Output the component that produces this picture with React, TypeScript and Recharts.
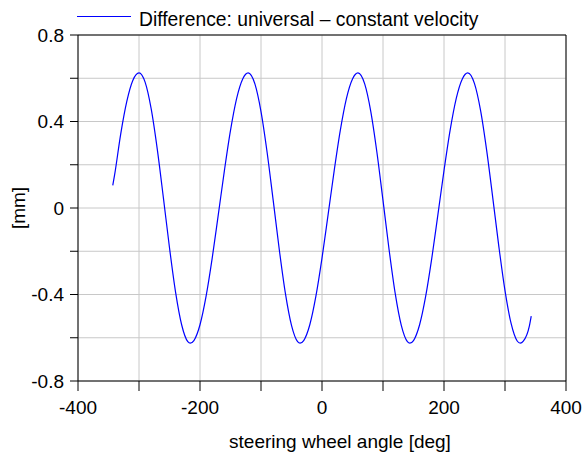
import React from 'react';
import { LineChart, Line, XAxis, YAxis, CartesianGrid, ReferenceLine, Legend, Label } from 'recharts';

const FONT = '"Liberation Sans", Arial, sans-serif';

const seriesName = 'Difference: universal \u2013 constant velocity';
const xLabel = 'steering wheel angle [deg]';
const yLabel = '[mm]';

const xTicks = [-400, -300, -200, -100, 0, 100, 200, 300, 400];
const xTickLabels = ['-400', '', '-200', '', '0', '', '200', '', '400'];
const yTicks = [-0.8, -0.6, -0.4, -0.2, 0, 0.2, 0.4, 0.6, 0.8];
const yTickLabels = ['-0.8', '', '-0.4', '', '0', '', '0.4', '', '0.8'];

const angles = [
  -343, -340, -330, -320, -310, -300, -290, -280, -270, -260, -250, -240, -230, -220, -216,
  -210, -200, -190, -180, -170, -160, -150, -140, -130, -121, -110, -100, -90, -80, -70,
  -60, -50, -40, -36, -30, -20, -10, 0, 10, 20, 30, 40, 50, 59, 70, 80, 90, 100, 110, 120,
  130, 140, 144, 150, 160, 170, 180, 190, 200, 210, 220, 230, 239, 250, 260, 270, 280, 290,
  300, 310, 320, 325, 330, 340, 343,
];

const difference = [
  0.105, 0.153, 0.342, 0.493, 0.591, 0.625, 0.582, 0.458, 0.271, 0.047, -0.184, -0.39, -0.541, -0.618, -0.625,
  -0.613, -0.54, -0.408, -0.232, -0.031, 0.173, 0.359, 0.506, 0.597, 0.625, 0.574, 0.446, 0.258, 0.035, -0.193,
  -0.395, -0.543, -0.618, -0.625, -0.613, -0.54, -0.408, -0.232, -0.031, 0.173, 0.359, 0.506, 0.597, 0.625, 0.574, 0.446, 0.258, 0.035, -0.193, -0.395,
  -0.543, -0.618, -0.625, -0.613, -0.54, -0.408, -0.232, -0.031, 0.173, 0.359, 0.506, 0.597, 0.625, 0.575, 0.45, 0.265, 0.046, -0.18,
  -0.382, -0.534, -0.615, -0.625, -0.616, -0.545, -0.5,
];

const data = angles.map((a, i) => ({ angle: a, diff: difference[i] }));

const fmtX = (v: number) => {
  const i = xTicks.findIndex((t) => Math.abs(t - v) < 1e-6);
  return i >= 0 ? xTickLabels[i] : '';
};
const fmtY = (v: number) => {
  const i = yTicks.findIndex((t) => Math.abs(t - v) < 1e-6);
  return i >= 0 ? yTickLabels[i] : '';
};

const LegendContent = () => (
  <div style={{ position: 'relative', width: 560, height: 35 }}>
    <svg width={60} height={30} style={{ position: 'absolute', left: 77, top: 0 }}>
      <line x1={0} x2={54} y1={16.5} y2={16.5} stroke="#0000ff" strokeWidth={1} />
    </svg>
    <span
      style={{
        position: 'absolute',
        left: 139,
        top: 10,
        fontSize: 19.3,
        lineHeight: '19px',
        fontFamily: FONT,
        color: '#000',
        whiteSpace: 'nowrap',
      }}
    >
      {seriesName}
    </span>
  </div>
);

export default function App() {
  const tickStyle = { fill: '#000', fontSize: 19, fontFamily: FONT };
  return (
    <>
      <style>{'html,body{margin:0;padding:0;overflow:hidden;}'}</style>
      <LineChart
        width={584}
        height={455}
        data={data}
        margin={{ top: 35, right: 18, bottom: 0, left: 8 }}
      >
        <CartesianGrid stroke="#c8c8c8" strokeWidth={1} />
        <XAxis
          dataKey="angle"
          type="number"
          domain={[-400, 400]}
          ticks={xTicks}
          tickFormatter={fmtX}
          height={74}
          tickSize={10}
          tickMargin={10}
          tick={tickStyle}
          axisLine={{ stroke: '#000' }}
          tickLine={{ stroke: '#000' }}
          interval={0}
        >
          <Label
            value={xLabel}
            position="insideBottom"
            offset={7}
            dx={18}
            style={{ fill: '#000', fontSize: 19, fontFamily: FONT }}
          />
        </XAxis>
        <YAxis
          type="number"
          domain={[-0.8, 0.8]}
          ticks={yTicks}
          tickFormatter={fmtY}
          width={70}
          tickSize={8}
          tickMargin={6}
          tick={tickStyle}
          axisLine={{ stroke: '#000' }}
          tickLine={{ stroke: '#000' }}
          interval={0}
        >
          <Label
            value={yLabel}
            angle={-90}
            position="insideLeft"
            offset={10}
            style={{ fill: '#000', fontSize: 19, fontFamily: FONT, textAnchor: 'middle' }}
          />
        </YAxis>
        <ReferenceLine y={0.8} stroke="#000" strokeWidth={1} />
        <ReferenceLine x={400} stroke="#000" strokeWidth={1} />
        <Legend
          layout="vertical"
          align="center"
          verticalAlign="middle"
          wrapperStyle={{ top: 0, left: 0 }}
          content={<LegendContent />}
        />
        <Line
          type="monotone"
          dataKey="diff"
          name={seriesName}
          stroke="#0000ff"
          strokeWidth={1.2}
          dot={false}
          isAnimationActive={false}
        />
      </LineChart>
    </>
  );
}
